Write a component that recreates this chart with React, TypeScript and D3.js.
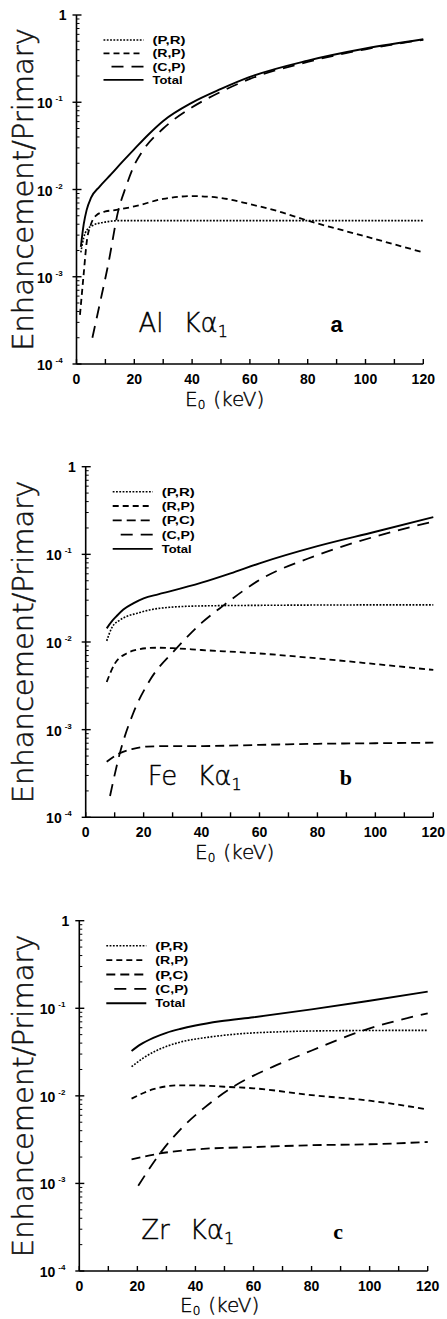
import React from "react";
import * as d3 from "d3";

// ---- Panel a: Al Kα1 ----
const alPR_E = [1.5, 2.5, 3.5, 5.8, 9.3, 15, 30, 60, 90, 120];
const alPR_V = [0.0019, 0.0028, 0.0034, 0.0039, 0.0042, 0.0044, 0.0044, 0.0044, 0.0044, 0.0044];
const alRP_E = [1.2, 2.4, 3.6, 5, 7, 10, 13.3, 20, 30, 40, 50, 60, 70, 80, 100, 120];
const alRP_V = [0.000365, 0.001, 0.0026, 0.004, 0.0051, 0.0056, 0.0058, 0.0064, 0.0078, 0.0084, 0.008, 0.0068, 0.0056, 0.0044, 0.0029, 0.0019];
const alCP_E = [5.5, 8, 11, 14.5, 17, 20, 23, 30, 40, 50, 60, 80, 100, 120];
const alCP_V = [0.0002, 0.00048, 0.0014, 0.0058, 0.0105, 0.019, 0.028, 0.05, 0.0875, 0.132, 0.185, 0.29, 0.405, 0.52];
const alTot_E = [1.5, 2.5, 3.5, 5, 8, 12, 16, 20, 25, 30, 40, 50, 60, 80, 100, 120];
const alTot_V = [0.0022, 0.004, 0.0058, 0.008, 0.0108, 0.015, 0.021, 0.029, 0.043, 0.061, 0.099, 0.142, 0.195, 0.3, 0.413, 0.527];

// ---- Panel b: Fe Kα1 ----
const fePR_E = [7.25, 9, 11.8, 14.5, 17.6, 22, 29, 40, 60, 80, 100, 120];
const fePR_V = [0.0103, 0.0145, 0.0178, 0.0198, 0.0212, 0.0232, 0.0249, 0.0258, 0.0262, 0.0264, 0.0265, 0.0265];
const feRP_E = [7.25, 10.1, 14.1, 18, 21, 25, 30, 40, 60, 80, 100, 120];
const feRP_V = [0.0035, 0.0057, 0.0074, 0.0082, 0.0085, 0.0086, 0.0085, 0.0081, 0.0074, 0.0065, 0.0056, 0.0048];
const fePC_E = [7.25, 11.8, 16, 21, 30, 40, 60, 80, 100, 120];
const fePC_V = [0.00043, 0.00054, 0.0006, 0.00064, 0.00065, 0.00065, 0.00067, 0.00069, 0.0007, 0.00071];
const feCP_E = [8.4, 11.8, 16.4, 22.2, 31.4, 40, 47.5, 60, 80, 100, 120];
const feCP_V = [0.000175, 0.00054, 0.00154, 0.00368, 0.0085, 0.0165, 0.026, 0.051, 0.098, 0.16, 0.236];
const feTot_E = [7.25, 9, 10.7, 13, 16.4, 20, 25, 30, 40, 50, 60, 80, 100, 120];
const feTot_V = [0.0143, 0.0172, 0.0198, 0.0235, 0.0276, 0.0315, 0.035, 0.0385, 0.0475, 0.0607, 0.079, 0.124, 0.181, 0.266];

// ---- Panel c: Zr Kα1 ----
const zrPR_E = [18, 22, 26.7, 34.7, 45, 55, 70, 90, 120];
const zrPR_V = [0.0215, 0.027, 0.033, 0.041, 0.047, 0.051, 0.054, 0.0555, 0.056];
const zrRP_E = [18, 25.5, 34.7, 42.7, 50, 60, 80, 100, 120];
const zrRP_V = [0.0093, 0.0119, 0.0132, 0.0131, 0.0127, 0.0122, 0.0102, 0.0088, 0.007];
const zrPC_E = [18, 27.8, 42.7, 60, 80, 100, 120];
const zrPC_V = [0.00188, 0.0022, 0.00248, 0.0026, 0.00273, 0.0028, 0.00297];
const zrCP_E = [20.3, 27.8, 34.7, 42.8, 53, 66.8, 76, 99, 120];
const zrCP_V = [0.00094, 0.0022, 0.0041, 0.0072, 0.0127, 0.0216, 0.029, 0.0575, 0.0877];
const zrTot_E = [18, 21, 25.5, 30, 34.7, 40, 48.5, 60, 80, 100, 120];
const zrTot_V = [0.0326, 0.0385, 0.046, 0.0525, 0.058, 0.0635, 0.071, 0.079, 0.097, 0.122, 0.155];

const xTicks = [0, 20, 40, 60, 80, 100, 120];
const xMinorTicks = [10, 30, 50, 70, 90, 110];
const yDecades = [-4, -3, -2, -1, 0];

type StyleKey = "PR" | "RP" | "PC" | "CP" | "Total";
const seriesLabels: Record<StyleKey, string> = {
  PR: "(P,R)",
  RP: "(R,P)",
  PC: "(P,C)",
  CP: "(C,P)",
  Total: "Total",
};
const dashes: Record<StyleKey, string | undefined> = {
  PR: "1.8,1.5",
  RP: "6,4",
  PC: "9,5",
  CP: "12,8",
  Total: undefined,
};
const widths: Record<StyleKey, number> = { PR: 1.6, RP: 1.8, PC: 1.8, CP: 1.8, Total: 1.9 };

type Series = { key: StyleKey; e: number[]; v: number[] };

type PanelProps = {
  left: number;
  right: number;
  top: number;
  bottom: number;
  series: Series[];
  element: string;
  letter: string;
  letterFont: string;
  xLabelX: number;
  xLabelDy: number;
  legendStep: number;
};

const sans = "'DejaVu Sans', sans-serif";
const tickFont = "'Liberation Sans', Arial, sans-serif";

function Panel(p: PanelProps) {
  const x = d3.scaleLinear().domain([0, 120]).range([p.left, p.right]);
  const y = d3.scaleLog().domain([1e-4, 1]).range([p.bottom, p.top]);
  const line = d3
    .line<[number, number]>()
    .x((d) => x(d[0]))
    .y((d) => y(d[1]))
    .curve(d3.curveMonotoneX);

  const minorY: number[] = [];
  for (let d = -4; d < 0; d++) for (let k = 2; k <= 9; k++) minorY.push(k * Math.pow(10, d));

  const legendKeys = p.series.map((s) => s.key);
  const midY = (p.top + p.bottom) / 2;

  return (
    <g>
      {/* y axis label */}
      <text
        transform={`translate(33,${midY}) rotate(-90)`}
        textAnchor="middle"
        fontFamily={sans}
        fontWeight={200}
        fontSize={29}
        fill="#111"
        stroke="#111"
        strokeWidth={0.5}
      >
        Enhancement/Primary
      </text>

      {/* axes */}
      <line x1={p.left} x2={p.left} y1={p.top} y2={p.bottom} stroke="#000" strokeWidth={1.6} />
      <line x1={p.left} x2={p.right} y1={p.bottom} y2={p.bottom} stroke="#000" strokeWidth={1.6} />
      {minorY.map((v, i) => (
        <line key={"my" + i} x1={p.left} x2={p.left + 3} y1={y(v)} y2={y(v)} stroke="#000" strokeWidth={1} />
      ))}
      {yDecades.map((d) => (
        <line key={"My" + d} x1={p.left - 4} x2={p.left + 5} y1={y(Math.pow(10, d))} y2={y(Math.pow(10, d))} stroke="#000" strokeWidth={1.4} />
      ))}
      {[...xTicks, ...xMinorTicks].map((t) => (
        <line key={"xt" + t} x1={x(t)} x2={x(t)} y1={p.bottom} y2={p.bottom - 5} stroke="#000" strokeWidth={1.4} />
      ))}

      {/* tick labels */}
      {xTicks.map((t) => (
        <text key={"xl" + t} x={x(t)} y={p.bottom + 19.5} textAnchor="middle" fontFamily={tickFont} fontWeight={700} fontSize={14}>
          {t}
        </text>
      ))}
      {yDecades.map((d) =>
        d === 0 ? (
          <text key={"yl0"} x={p.left - 10} y={y(1) + 5} textAnchor="end" fontFamily={tickFont} fontWeight={700} fontSize={14}>
            1
          </text>
        ) : (
          <g key={"yl" + d}>
            <text x={p.left - 24} y={y(Math.pow(10, d)) + 6} textAnchor="end" fontFamily={tickFont} fontWeight={700} fontSize={14}>
              10
            </text>
            <text x={p.left - 21} y={y(Math.pow(10, d)) - 1} fontFamily={tickFont} fontWeight={700} fontSize={8}>
              {"-" + -d}
            </text>
          </g>
        )
      )}

      {/* curves */}
      {p.series.map((s) => (
        <path
          key={s.key}
          d={line(s.e.map((e, i) => [e, s.v[i]] as [number, number])) || ""}
          fill="none"
          stroke="#000"
          strokeWidth={widths[s.key]}
          strokeDasharray={dashes[s.key]}
        />
      ))}

      {/* legend */}
      {legendKeys.map((k, i) => {
        const ly = p.top + 25 + i * p.legendStep;
        return (
          <g key={"lg" + k}>
            <line
              x1={p.left + (k === "CP" ? 35 : 27)}
              x2={p.left + 67}
              y1={ly}
              y2={ly}
              stroke="#000"
              strokeWidth={widths[k]}
              strokeDasharray={dashes[k]}
            />
            <text
              x={p.left + 76}
              y={ly + 4}
              fontFamily={tickFont}
              fontWeight={700}
              fontSize={11.5}
              textLength={k === "Total" ? 30 : 33}
              lengthAdjust="spacingAndGlyphs"
            >
              {seriesLabels[k]}
            </text>
          </g>
        );
      })}

      {/* element label */}
      <text x={p.left + 62} y={p.bottom - 32} fontFamily={sans} fontWeight={200} fontSize={26} stroke="#000" strokeWidth={0.4}>
        {p.element}
        <tspan dx={20}>Kα</tspan>
        <tspan fontSize={16} dy={5}>1</tspan>
      </text>
      <text x={p.left + 254} y={p.bottom - 32} fontFamily={p.letterFont} fontWeight={700} fontSize={22}>
        {p.letter}
      </text>

      {/* x axis label */}
      <text x={p.xLabelX} y={p.bottom + p.xLabelDy} fontFamily={sans} fontWeight={200} fontSize={20} stroke="#000" strokeWidth={0.4}>
        E
        <tspan fontSize={12} dy={3}>0</tspan>
        <tspan dy={-3} dx={8}>(keV)</tspan>
      </text>
    </g>
  );
}

export default function App() {
  return (
    <svg
      width={447}
      height={1319}
      viewBox="0 0 447 1319"
      style={{ position: "absolute", left: 0, top: 0, background: "#fff" }}
    >
      <rect width={447} height={1319} fill="#fff" />
      <Panel
        left={76.5}
        right={423.3}
        top={15}
        bottom={364}
        element="Al"
        letter="a"
        letterFont={tickFont}
        xLabelX={185}
        xLabelDy={42}
        legendStep={13.3}
        series={[
          { key: "PR", e: alPR_E, v: alPR_V },
          { key: "RP", e: alRP_E, v: alRP_V },
          { key: "CP", e: alCP_E, v: alCP_V },
          { key: "Total", e: alTot_E, v: alTot_V },
        ]}
      />
      <Panel
        left={85.7}
        right={433.3}
        top={466.7}
        bottom={817.3}
        element="Fe"
        letter="b"
        letterFont="'Liberation Serif', serif"
        xLabelX={195}
        xLabelDy={42}
        legendStep={14.3}
        series={[
          { key: "PR", e: fePR_E, v: fePR_V },
          { key: "RP", e: feRP_E, v: feRP_V },
          { key: "PC", e: fePC_E, v: fePC_V },
          { key: "CP", e: feCP_E, v: feCP_V },
          { key: "Total", e: feTot_E, v: feTot_V },
        ]}
      />
      <Panel
        left={79.3}
        right={427.7}
        top={920.7}
        bottom={1271}
        element="Zr"
        letter="c"
        letterFont="'Liberation Serif', serif"
        xLabelX={180}
        xLabelDy={41}
        legendStep={14.4}
        series={[
          { key: "PR", e: zrPR_E, v: zrPR_V },
          { key: "RP", e: zrRP_E, v: zrRP_V },
          { key: "PC", e: zrPC_E, v: zrPC_V },
          { key: "CP", e: zrCP_E, v: zrCP_V },
          { key: "Total", e: zrTot_E, v: zrTot_V },
        ]}
      />
    </svg>
  );
}
